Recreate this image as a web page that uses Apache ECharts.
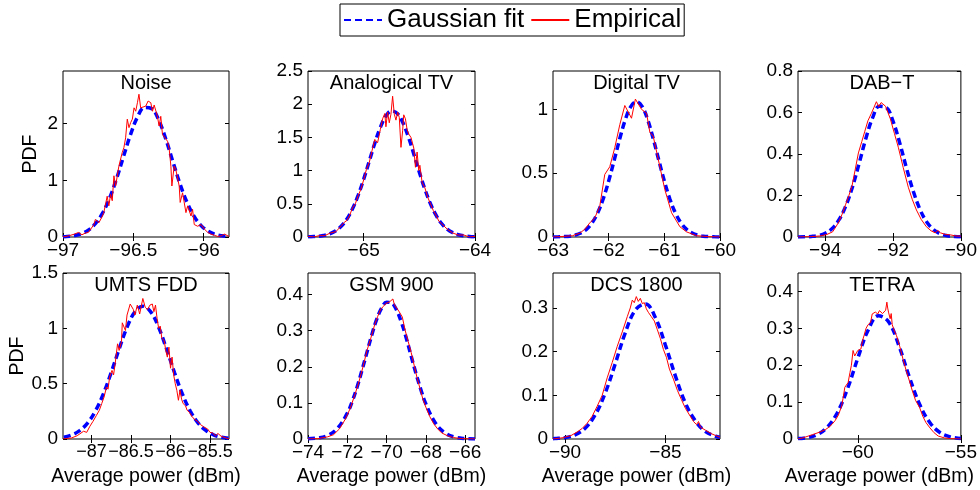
<!DOCTYPE html>
<html><head><meta charset="utf-8">
<script src="https://cdn.jsdelivr.net/npm/echarts@6/dist/echarts.min.js"></script>
<style>html,body{margin:0;padding:0;background:#fff}#c{width:980px;height:490px}</style>
</head><body><div id="c"></div>
<script>
// ---------- data ----------
const panelTitles = ['Noise', 'Analogical TV', 'Digital TV', 'DAB−T', 'UMTS FDD', 'GSM 900', 'DCS 1800', 'TETRA'];
const xMins = [-97, -65.5, -63, -94.8, -87.36, -74, -90.6, -62.9];
const xMaxs = [-95.82, -64, -60, -90, -85.26, -65.5, -82.28, -55];
const yMaxs = [2.93, 2.5, 1.3, 0.8, 1.5, 0.46, 0.38, 0.45];
const xTickVals = [[-97, -96.5, -96], [-65, -64], [-63, -62, -61, -60], [-94, -92, -90], [-87, -86.5, -86, -85.5], [-74, -72, -70, -68, -66], [-90, -85], [-60, -55]];
const yTickVals = [[0, 1, 2], [0, 0.5, 1, 1.5, 2, 2.5], [0, 0.5, 1], [0, 0.2, 0.4, 0.6, 0.8], [0, 0.5, 1, 1.5], [0, 0.1, 0.2, 0.3, 0.4], [0, 0.1, 0.2, 0.3], [0, 0.1, 0.2, 0.3, 0.4]];
const xAxisTitle = 'Average power (dBm)';
const yAxisTitle = 'PDF';

const noiseFit = [[-97.00,0.005],[-96.97,0.010],[-96.92,0.025],[-96.87,0.057],[-96.82,0.121],[-96.77,0.234],[-96.72,0.416],[-96.67,0.680],[-96.62,1.024],[-96.57,1.419],[-96.52,1.808],[-96.47,2.119],[-96.42,2.285],[-96.37,2.266],[-96.32,2.067],[-96.27,1.735],[-96.22,1.339],[-96.17,0.950],[-96.12,0.621],[-96.07,0.373],[-96.02,0.206],[-95.97,0.105],[-95.92,0.049],[-95.87,0.021],[-95.82,0.008]];
const noiseEmp = [[-97.00,0.00],[-96.96,0.02],[-96.92,0.05],[-96.89,0.08],[-96.865,0.04],[-96.84,0.07],[-96.82,0.08],[-96.78,0.22],[-96.77,0.31],[-96.745,0.25],[-96.72,0.37],[-96.71,0.43],[-96.686,0.72],[-96.674,0.55],[-96.662,0.75],[-96.65,0.64],[-96.638,1.08],[-96.626,0.90],[-96.603,1.25],[-96.579,1.49],[-96.567,1.58],[-96.555,1.75],[-96.543,2.08],[-96.531,1.93],[-96.519,2.02],[-96.507,2.08],[-96.495,2.28],[-96.483,2.22],[-96.471,2.37],[-96.46,2.52],[-96.448,2.28],[-96.436,2.25],[-96.412,2.31],[-96.395,2.40],[-96.376,2.37],[-96.364,2.22],[-96.352,2.33],[-96.329,2.13],[-96.317,1.96],[-96.305,2.13],[-96.293,1.81],[-96.281,1.84],[-96.257,1.69],[-96.245,1.55],[-96.233,1.25],[-96.226,0.90],[-96.21,1.25],[-96.198,1.19],[-96.174,0.90],[-96.167,0.61],[-96.15,0.78],[-96.126,0.43],[-96.114,0.55],[-96.09,0.37],[-96.079,0.49],[-96.067,0.22],[-96.043,0.19],[-96.019,0.22],[-95.995,0.14],[-95.971,0.08],[-95.948,0.05],[-95.924,0.03],[-95.90,0.01],[-95.876,0.02],[-95.852,0.05],[-95.82,0.01]];

const analogFit = [[-65.50,0.002],[-65.45,0.006],[-65.40,0.012],[-65.35,0.026],[-65.30,0.051],[-65.25,0.094],[-65.20,0.165],[-65.15,0.272],[-65.10,0.425],[-65.05,0.626],[-65.00,0.870],[-64.95,1.141],[-64.90,1.413],[-64.85,1.652],[-64.80,1.822],[-64.75,1.898],[-64.70,1.865],[-64.65,1.730],[-64.60,1.515],[-64.55,1.252],[-64.50,0.976],[-64.45,0.719],[-64.40,0.500],[-64.35,0.328],[-64.30,0.203],[-64.25,0.118],[-64.20,0.065],[-64.15,0.034],[-64.10,0.017],[-64.05,0.008],[-64.00,0.003]];
const analogEmp = [[-65.50,0.01],[-65.45,0.00],[-65.40,0.02],[-65.35,0.02],[-65.30,0.06],[-65.25,0.08],[-65.20,0.17],[-65.175,0.22],[-65.15,0.25],[-65.125,0.33],[-65.10,0.44],[-65.075,0.50],[-65.05,0.62],[-65.025,0.72],[-65.00,0.86],[-64.975,1.02],[-64.95,1.12],[-64.925,1.30],[-64.90,1.47],[-64.875,1.42],[-64.85,1.62],[-64.83,1.78],[-64.81,1.86],[-64.80,1.66],[-64.785,1.88],[-64.77,1.72],[-64.755,1.85],[-64.74,2.12],[-64.725,1.85],[-64.71,1.76],[-64.695,1.88],[-64.68,1.80],[-64.665,1.35],[-64.65,1.60],[-64.64,1.84],[-64.625,1.78],[-64.61,1.62],[-64.595,1.55],[-64.575,1.50],[-64.55,1.34],[-64.535,1.05],[-64.52,1.28],[-64.505,1.00],[-64.495,1.08],[-64.475,0.82],[-64.45,0.74],[-64.425,0.60],[-64.40,0.50],[-64.375,0.40],[-64.35,0.33],[-64.325,0.24],[-64.30,0.20],[-64.25,0.12],[-64.20,0.06],[-64.15,0.03],[-64.10,0.03],[-64.05,0.00],[-64.00,0.01]];

const digitalFit = [[-63.0,0.0004],[-62.9,0.001],[-62.8,0.003],[-62.7,0.0065],[-62.6,0.015],[-62.5,0.031],[-62.4,0.060],[-62.3,0.110],[-62.2,0.187],[-62.1,0.297],[-62.0,0.438],[-61.9,0.602],[-61.8,0.771],[-61.7,0.920],[-61.6,1.023],[-61.5,1.060],[-61.4,1.023],[-61.3,0.920],[-61.2,0.771],[-61.1,0.602],[-61.0,0.438],[-60.9,0.297],[-60.8,0.187],[-60.7,0.110],[-60.6,0.060],[-60.5,0.031],[-60.4,0.015],[-60.3,0.0065],[-60.2,0.003],[-60.1,0.001],[-60.0,0.0004]];
const digitalEmp = [[-63.0,0.00],[-62.8,0.005],[-62.65,0.01],[-62.52,0.03],[-62.43,0.06],[-62.34,0.11],[-62.25,0.15],[-62.16,0.24],[-62.07,0.49],[-61.98,0.55],[-61.89,0.70],[-61.80,0.88],[-61.71,1.03],[-61.59,0.93],[-61.52,1.08],[-61.41,1.00],[-61.32,0.97],[-61.26,0.82],[-61.20,0.79],[-61.08,0.55],[-60.99,0.37],[-60.87,0.19],[-60.72,0.08],[-60.60,0.04],[-60.42,0.01],[-60.2,0.003],[-60.0,0.00]];

const dabFit = [[-94.8,0.0003],[-94.6,0.0009],[-94.4,0.0027],[-94.2,0.0074],[-94.0,0.018],[-93.8,0.040],[-93.6,0.081],[-93.4,0.146],[-93.2,0.239],[-93.0,0.354],[-92.8,0.475],[-92.6,0.575],[-92.4,0.630],[-92.2,0.624],[-92.0,0.558],[-91.8,0.452],[-91.6,0.330],[-91.4,0.219],[-91.2,0.131],[-91.0,0.071],[-90.8,0.035],[-90.6,0.015],[-90.4,0.006],[-90.2,0.002],[-90.0,0.0007]];
const dabEmp = [[-94.8,0],[-94.4,0.002],[-94.15,0.005],[-93.95,0.012],[-93.78,0.025],[-93.68,0.05],[-93.59,0.075],[-93.5,0.11],[-93.4,0.155],[-93.3,0.2],[-93.21,0.245],[-93.12,0.32],[-93.02,0.405],[-92.92,0.46],[-92.83,0.51],[-92.74,0.56],[-92.64,0.595],[-92.56,0.625],[-92.49,0.652],[-92.42,0.628],[-92.35,0.648],[-92.3,0.652],[-92.22,0.63],[-92.15,0.6],[-92.08,0.57],[-91.96,0.5],[-91.84,0.43],[-91.7,0.335],[-91.55,0.24],[-91.43,0.18],[-91.31,0.13],[-91.17,0.085],[-91.02,0.05],[-90.88,0.03],[-90.76,0.02],[-90.68,0.032],[-90.6,0.02],[-90.45,0.012],[-90.3,0.01],[-90.15,0.005],[-90.0,0.004]];

const umtsFit = [[-87.35,0.016],[-87.25,0.036],[-87.15,0.075],[-87.05,0.144],[-86.95,0.253],[-86.85,0.407],[-86.75,0.601],[-86.65,0.813],[-86.55,1.009],[-86.45,1.149],[-86.35,1.200],[-86.25,1.149],[-86.15,1.009],[-86.05,0.813],[-85.95,0.601],[-85.85,0.407],[-85.75,0.253],[-85.65,0.144],[-85.55,0.075],[-85.45,0.036],[-85.35,0.016],[-85.25,0.006]];
const umtsEmp = [[-87.36,0.00],[-87.25,0.01],[-87.18,0.03],[-87.10,0.07],[-87.06,0.06],[-87.02,0.115],[-86.98,0.16],[-86.94,0.21],[-86.90,0.26],[-86.87,0.32],[-86.84,0.38],[-86.81,0.47],[-86.79,0.45],[-86.77,0.56],[-86.74,0.62],[-86.72,0.58],[-86.70,0.68],[-86.67,0.86],[-86.65,0.80],[-86.62,0.88],[-86.61,1.05],[-86.60,1.04],[-86.57,0.98],[-86.55,1.12],[-86.53,1.12],[-86.51,1.22],[-86.49,1.22],[-86.47,1.17],[-86.45,1.12],[-86.42,1.21],[-86.39,1.13],[-86.35,1.27],[-86.32,1.19],[-86.29,1.17],[-86.26,1.21],[-86.23,1.22],[-86.21,1.15],[-86.19,1.21],[-86.17,1.09],[-86.15,1.00],[-86.13,1.02],[-86.11,0.91],[-86.08,0.89],[-86.06,0.80],[-86.04,0.74],[-86.02,0.83],[-86.00,0.64],[-85.98,0.74],[-85.96,0.58],[-85.94,0.50],[-85.92,0.44],[-85.90,0.35],[-85.88,0.44],[-85.86,0.36],[-85.84,0.32],[-85.81,0.30],[-85.79,0.26],[-85.76,0.24],[-85.73,0.205],[-85.70,0.18],[-85.66,0.16],[-85.62,0.13],[-85.58,0.11],[-85.53,0.09],[-85.50,0.06],[-85.47,0.055],[-85.43,0.03],[-85.40,0.05],[-85.36,0.025],[-85.30,0.01],[-85.26,0.00]];

const gsmFit = [[-74.0,0.0007],[-73.5,0.0028],[-73.0,0.010],[-72.5,0.0295],[-72.0,0.0717],[-71.75,0.104],[-71.5,0.144],[-71.25,0.191],[-71.0,0.240],[-70.75,0.289],[-70.5,0.332],[-70.25,0.363],[-70.0,0.379],[-69.75,0.377],[-69.5,0.358],[-69.25,0.324],[-69.0,0.280],[-68.75,0.230],[-68.5,0.181],[-68.25,0.136],[-68.0,0.097],[-67.5,0.043],[-67.0,0.0158],[-66.5,0.0048],[-66.0,0.0012],[-65.5,0.0003]];
const gsmEmp = [[-74.0,0.0],[-73.5,0.001],[-73.0,0.006],[-72.7,0.012],[-72.4,0.028],[-72.1,0.055],[-71.85,0.085],[-71.6,0.125],[-71.4,0.16],[-71.2,0.20],[-71.0,0.245],[-70.8,0.28],[-70.6,0.318],[-70.45,0.34],[-70.3,0.36],[-70.15,0.368],[-70.05,0.375],[-69.95,0.372],[-69.85,0.38],[-69.75,0.376],[-69.68,0.388],[-69.6,0.372],[-69.5,0.368],[-69.35,0.352],[-69.2,0.338],[-69.05,0.30],[-68.9,0.27],[-68.75,0.24],[-68.6,0.205],[-68.45,0.17],[-68.3,0.14],[-68.15,0.11],[-68.0,0.088],[-67.8,0.062],[-67.6,0.042],[-67.4,0.028],[-67.2,0.017],[-66.9,0.009],[-66.6,0.004],[-66.2,0.001],[-65.5,0.0]];

const dcsFit = [[-90.6,0.0007],[-90.5,0.0009],[-90.0,0.0032],[-89.5,0.0096],[-89.0,0.0248],[-88.5,0.055],[-88.0,0.105],[-87.5,0.172],[-87.0,0.243],[-86.5,0.295],[-86.0,0.309],[-85.5,0.278],[-85.0,0.215],[-84.5,0.144],[-84.0,0.082],[-83.5,0.041],[-83.0,0.017],[-82.5,0.0063],[-82.28,0.004]];
const dcsEmp = [[-90.6,0.0],[-90.1,0.003],[-89.7,0.008],[-89.4,0.016],[-89.15,0.024],[-88.9,0.036],[-88.65,0.052],[-88.4,0.075],[-88.15,0.10],[-87.9,0.14],[-87.65,0.175],[-87.4,0.212],[-87.15,0.245],[-86.9,0.28],[-86.75,0.30],[-86.65,0.318],[-86.55,0.312],[-86.45,0.326],[-86.35,0.315],[-86.25,0.322],[-86.15,0.31],[-86.05,0.312],[-85.95,0.298],[-85.85,0.29],[-85.7,0.28],[-85.55,0.27],[-85.4,0.25],[-85.25,0.23],[-85.1,0.205],[-84.95,0.187],[-84.8,0.16],[-84.6,0.137],[-84.4,0.111],[-84.2,0.09],[-84.0,0.07],[-83.8,0.055],[-83.6,0.04],[-83.45,0.033],[-83.35,0.04],[-83.25,0.027],[-83.0,0.02],[-82.7,0.012],[-82.5,0.008],[-82.28,0.004]];

const tetraFit = [[-62.9,0.0012],[-62.5,0.0035],[-62.0,0.011],[-61.5,0.031],[-61.0,0.0706],[-60.5,0.136],[-60.0,0.219],[-59.5,0.295],[-59.0,0.334],[-58.5,0.317],[-58.0,0.252],[-57.5,0.168],[-57.0,0.094],[-56.5,0.044],[-56.0,0.017],[-55.5,0.0057],[-55.0,0.0016]];
const tetraEmp = [[-62.9,0.0],[-62.66,0.003],[-62.4,0.008],[-62.19,0.012],[-61.88,0.018],[-61.56,0.026],[-61.4,0.032],[-61.25,0.04],[-61.1,0.05],[-60.94,0.065],[-60.78,0.09],[-60.7,0.115],[-60.63,0.14],[-60.47,0.153],[-60.38,0.18],[-60.31,0.20],[-60.23,0.24],[-60.15,0.225],[-60.08,0.22],[-60.0,0.24],[-59.92,0.235],[-59.85,0.244],[-59.77,0.267],[-59.7,0.28],[-59.6,0.30],[-59.5,0.31],[-59.38,0.316],[-59.3,0.339],[-59.22,0.34],[-59.15,0.344],[-59.03,0.339],[-58.95,0.348],[-58.87,0.349],[-58.8,0.34],[-58.73,0.344],[-58.65,0.349],[-58.59,0.371],[-58.55,0.355],[-58.51,0.344],[-58.43,0.326],[-58.38,0.34],[-58.33,0.31],[-58.27,0.30],[-58.2,0.29],[-58.12,0.28],[-58.04,0.265],[-57.96,0.25],[-57.8,0.215],[-57.65,0.185],[-57.5,0.158],[-57.35,0.13],[-57.2,0.105],[-57.0,0.085],[-56.85,0.062],[-56.7,0.045],[-56.5,0.03],[-56.3,0.017],[-56.1,0.008],[-55.8,0.003],[-55.5,0.001],[-55.0,0.0]];

const fitSeries = [noiseFit, analogFit, digitalFit, dabFit, umtsFit, gsmFit, dcsFit, tetraFit];
const empSeries = [noiseEmp, analogEmp, digitalEmp, dabEmp, umtsEmp, gsmEmp, dcsEmp, tetraEmp];

// ---------- layout ----------
const FONT = "'Liberation Sans', Arial, Helvetica, sans-serif";
const colLeft = [63, 308, 553, 798];
const colWidth = [166, 167, 167, 168];
const rowTop = [71, 273];
const rowHeight = [166, 166];
const xLabelSize = [19, 19, 19, 19, 18, 19, 19, 19];

const fmt = v => (v < 0 ? '\u2212' : '') + String(Math.abs(v));

const grids = [], xAxes = [], yAxes = [], series = [], graphics = [];
for (let i = 0; i < 8; i++) {
  const r = Math.floor(i / 4), c = i % 4;
  grids.push({left: colLeft[c], top: rowTop[r], width: colWidth[c], height: rowHeight[r],
    show: true, borderColor: '#000', borderWidth: 1, backgroundColor: '#fff', containLabel: false});
  xAxes.push({type: 'value', gridIndex: i, min: xMins[i], max: xMaxs[i], position: 'bottom',
    splitLine: {show: false}, axisLine: {show: false},
    axisTick: {show: true, inside: true, length: 4, interval: 0, lineStyle: {color: '#000'}, customValues: xTickVals[i]},
    axisLabel: {show: true, interval: 0, hideOverlap: false, customValues: xTickVals[i], formatter: fmt, margin: 4, color: '#000', fontSize: xLabelSize[i], fontFamily: FONT, showMinLabel: true, showMaxLabel: true},
    name: r === 1 ? xAxisTitle : '', nameLocation: 'middle', nameGap: 28,
    nameTextStyle: {fontSize: 19.5, color: '#000', fontFamily: FONT}
  });
  yAxes.push({type: 'value', gridIndex: i, min: 0, max: yMaxs[i], position: 'left',
    splitLine: {show: false}, axisLine: {show: false},
    axisTick: {show: true, inside: true, length: 4, interval: 0, lineStyle: {color: '#000'}, customValues: yTickVals[i]},
    axisLabel: {show: true, interval: 0, hideOverlap: false, customValues: yTickVals[i], formatter: fmt, margin: 5, color: '#000', fontSize: 19, fontFamily: FONT, showMinLabel: true, showMaxLabel: true},
    name: c === 0 ? yAxisTitle : '', nameLocation: 'middle', nameGap: 22, nameRotate: 90,
    nameTextStyle: {fontSize: 19.5, color: '#000', fontFamily: FONT}
  });
}
// mirrored ticks on top / right sides
for (let i = 0; i < 8; i++) {
  xAxes.push({type: 'value', gridIndex: i, min: xMins[i], max: xMaxs[i], position: 'top', splitLine: {show: false}, axisLine: {show: false},
    axisTick: {show: true, inside: true, length: 4, interval: 0, lineStyle: {color: '#000'}, customValues: xTickVals[i]},
    axisLabel: {show: false}});
  yAxes.push({type: 'value', gridIndex: i, min: 0, max: yMaxs[i], position: 'right', splitLine: {show: false}, axisLine: {show: false},
    axisTick: {show: true, inside: true, length: 4, interval: 0, lineStyle: {color: '#000'}, customValues: yTickVals[i]},
    axisLabel: {show: false}});
}
for (let i = 0; i < 8; i++) {
  const r = Math.floor(i / 4), c = i % 4;
  series.push({type: 'line', name: 'Gaussian fit', xAxisIndex: i, yAxisIndex: i, data: fitSeries[i],
    symbol: 'none', showSymbol: false, smooth: 0.4, z: 2,
    lineStyle: {color: '#0000ff', width: 3.5, type: [7, 4]}, itemStyle: {color: '#0000ff'}});
  series.push({type: 'line', name: 'Empirical', xAxisIndex: i, yAxisIndex: i, data: empSeries[i],
    symbol: 'none', showSymbol: false, z: 3,
    lineStyle: {color: '#ff0000', width: 1}, itemStyle: {color: '#ff0000'}});
  graphics.push({type: 'text', x: colLeft[c] + colWidth[c] / 2, y: rowTop[r] + 2, z: 10,
    style: {text: panelTitles[i], align: 'center', verticalAlign: 'top', fontSize: 20, fontFamily: FONT, fill: '#000'}});
}

const chart = echarts.init(document.getElementById('c'), null, {renderer: 'canvas'});
chart.setOption({
  animation: false,
  backgroundColor: '#fff',
  legend: {
    data: ['Gaussian fit', 'Empirical'], left: 340, top: 4, orient: 'horizontal',
    itemWidth: 38, itemHeight: 14, itemGap: 6, padding: [3, 3, 3, 3],
    borderColor: '#000', borderWidth: 1, backgroundColor: '#fff',
    itemStyle: {opacity: 0},
    textStyle: {fontSize: 26, color: '#000', fontFamily: FONT}
  },
  grid: grids, xAxis: xAxes, yAxis: yAxes, series: series, graphic: graphics
});
</script></body></html>
